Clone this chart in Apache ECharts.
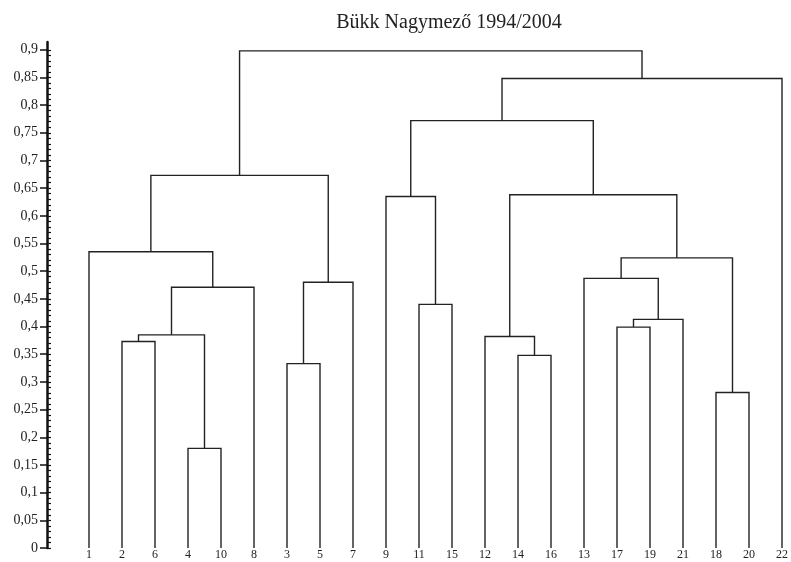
<!DOCTYPE html>
<html><head><meta charset="utf-8">
<script src="https://cdn.jsdelivr.net/npm/echarts@6/dist/echarts.min.js"></script>
<style>html,body{margin:0;padding:0;background:#fff}#c{width:791px;height:562px}</style>
</head><body><div id="c"></div>
<script>
var titleText = 'Bükk Nagymező 1994/2004';
var leafOrder = [1,2,6,4,10,8,3,5,7,9,11,15,12,14,16,13,17,19,21,18,20,22];
// positive = leaf label, negative = -(merge index + 1)
var mergeLeft  = [4, 2, -2, -3, 1, 3, -6, -5, 11, 9, 14, 12, 17, -13, 13, 18, -15, -12, -10, -19, -8];
var mergeRight = [10, 6, -1, 8, -4, 5, 7, -7, 15, -9, 16, -11, 19, 21, -14, 20, -16, -17, -18, 22, -20];
var mergeHeight = [0.18, 0.373, 0.385, 0.471, 0.535, 0.333, 0.48, 0.673, 0.44, 0.635, 0.348, 0.382, 0.399, 0.413, 0.487, 0.281, 0.524, 0.638, 0.772, 0.848, 0.898];
var yTicks = [0,0.05,0.1,0.15,0.2,0.25,0.3,0.35,0.4,0.45,0.5,0.55,0.6,0.65,0.7,0.75,0.8,0.85,0.9];

var minorTicks = [];
for (var i = 0; i <= 90; i++) minorTicks.push(i / 100);

var nodeX = [], nodeH = [];
function pos(ref) {
  if (ref > 0) return [leafOrder.indexOf(ref), 0];
  var k = -ref - 1; return [nodeX[k], nodeH[k]];
}
var linkData = [];
for (var m = 0; m < mergeHeight.length; m++) {
  var a = pos(mergeLeft[m]), b = pos(mergeRight[m]), h = mergeHeight[m];
  nodeX[m] = (a[0] + b[0]) / 2; nodeH[m] = h;
  linkData.push({coords: [[a[0], a[1]], [a[0], h], [b[0], h], [b[0], b[1]]]});
}

var chart = echarts.init(document.getElementById('c'));
var fmt = function (v) { return v === 0 ? '0' : String(+v.toFixed(2)).replace('.', ','); };
chart.setOption({
  animation: false,
  title: {text: titleText, left: 444, top: 8, textAlign: 'center',
    textStyle: {fontFamily: 'Liberation Serif', fontSize: 20, fontWeight: 'normal', color: '#222'}},
  grid: {left: 89, right: 5, top: 42, bottom: 14, containLabel: false},
  xAxis: {type: 'value', min: 0, max: 21, interval: 1,
    axisLine: {show: false}, axisTick: {show: false}, splitLine: {show: false},
    axisLabel: {margin: 1, fontFamily: 'Liberation Serif', fontSize: 12, color: '#222',
      formatter: function (v) { return leafOrder[v] !== undefined ? String(leafOrder[v]) : ''; }}},
  yAxis: [{type: 'value', min: 0, max: 0.914, offset: 42,
    axisLine: {show: true, onZero: false, lineStyle: {color: '#111', width: 2.5}},
    axisTick: {show: true, inside: false, length: 7, lineStyle: {color: '#111', width: 1.5}, customValues: yTicks},
    axisLabel: {margin: 9, fontFamily: 'Liberation Serif', fontSize: 14, color: '#222', formatter: fmt, customValues: yTicks},
    splitLine: {show: false}},
   {type: 'value', min: 0, max: 0.914, offset: 42, position: 'left',
    axisLine: {show: false, onZero: false},
    axisTick: {show: true, inside: true, length: 4, lineStyle: {color: '#111', width: 1.2}, customValues: minorTicks},
    axisLabel: {show: false}, splitLine: {show: false}}],
  series: [{type: 'lines', coordinateSystem: 'cartesian2d', polyline: true, silent: true,
    lineStyle: {color: '#222', width: 1.4, opacity: 1}, data: linkData}]
});
</script></body></html>
